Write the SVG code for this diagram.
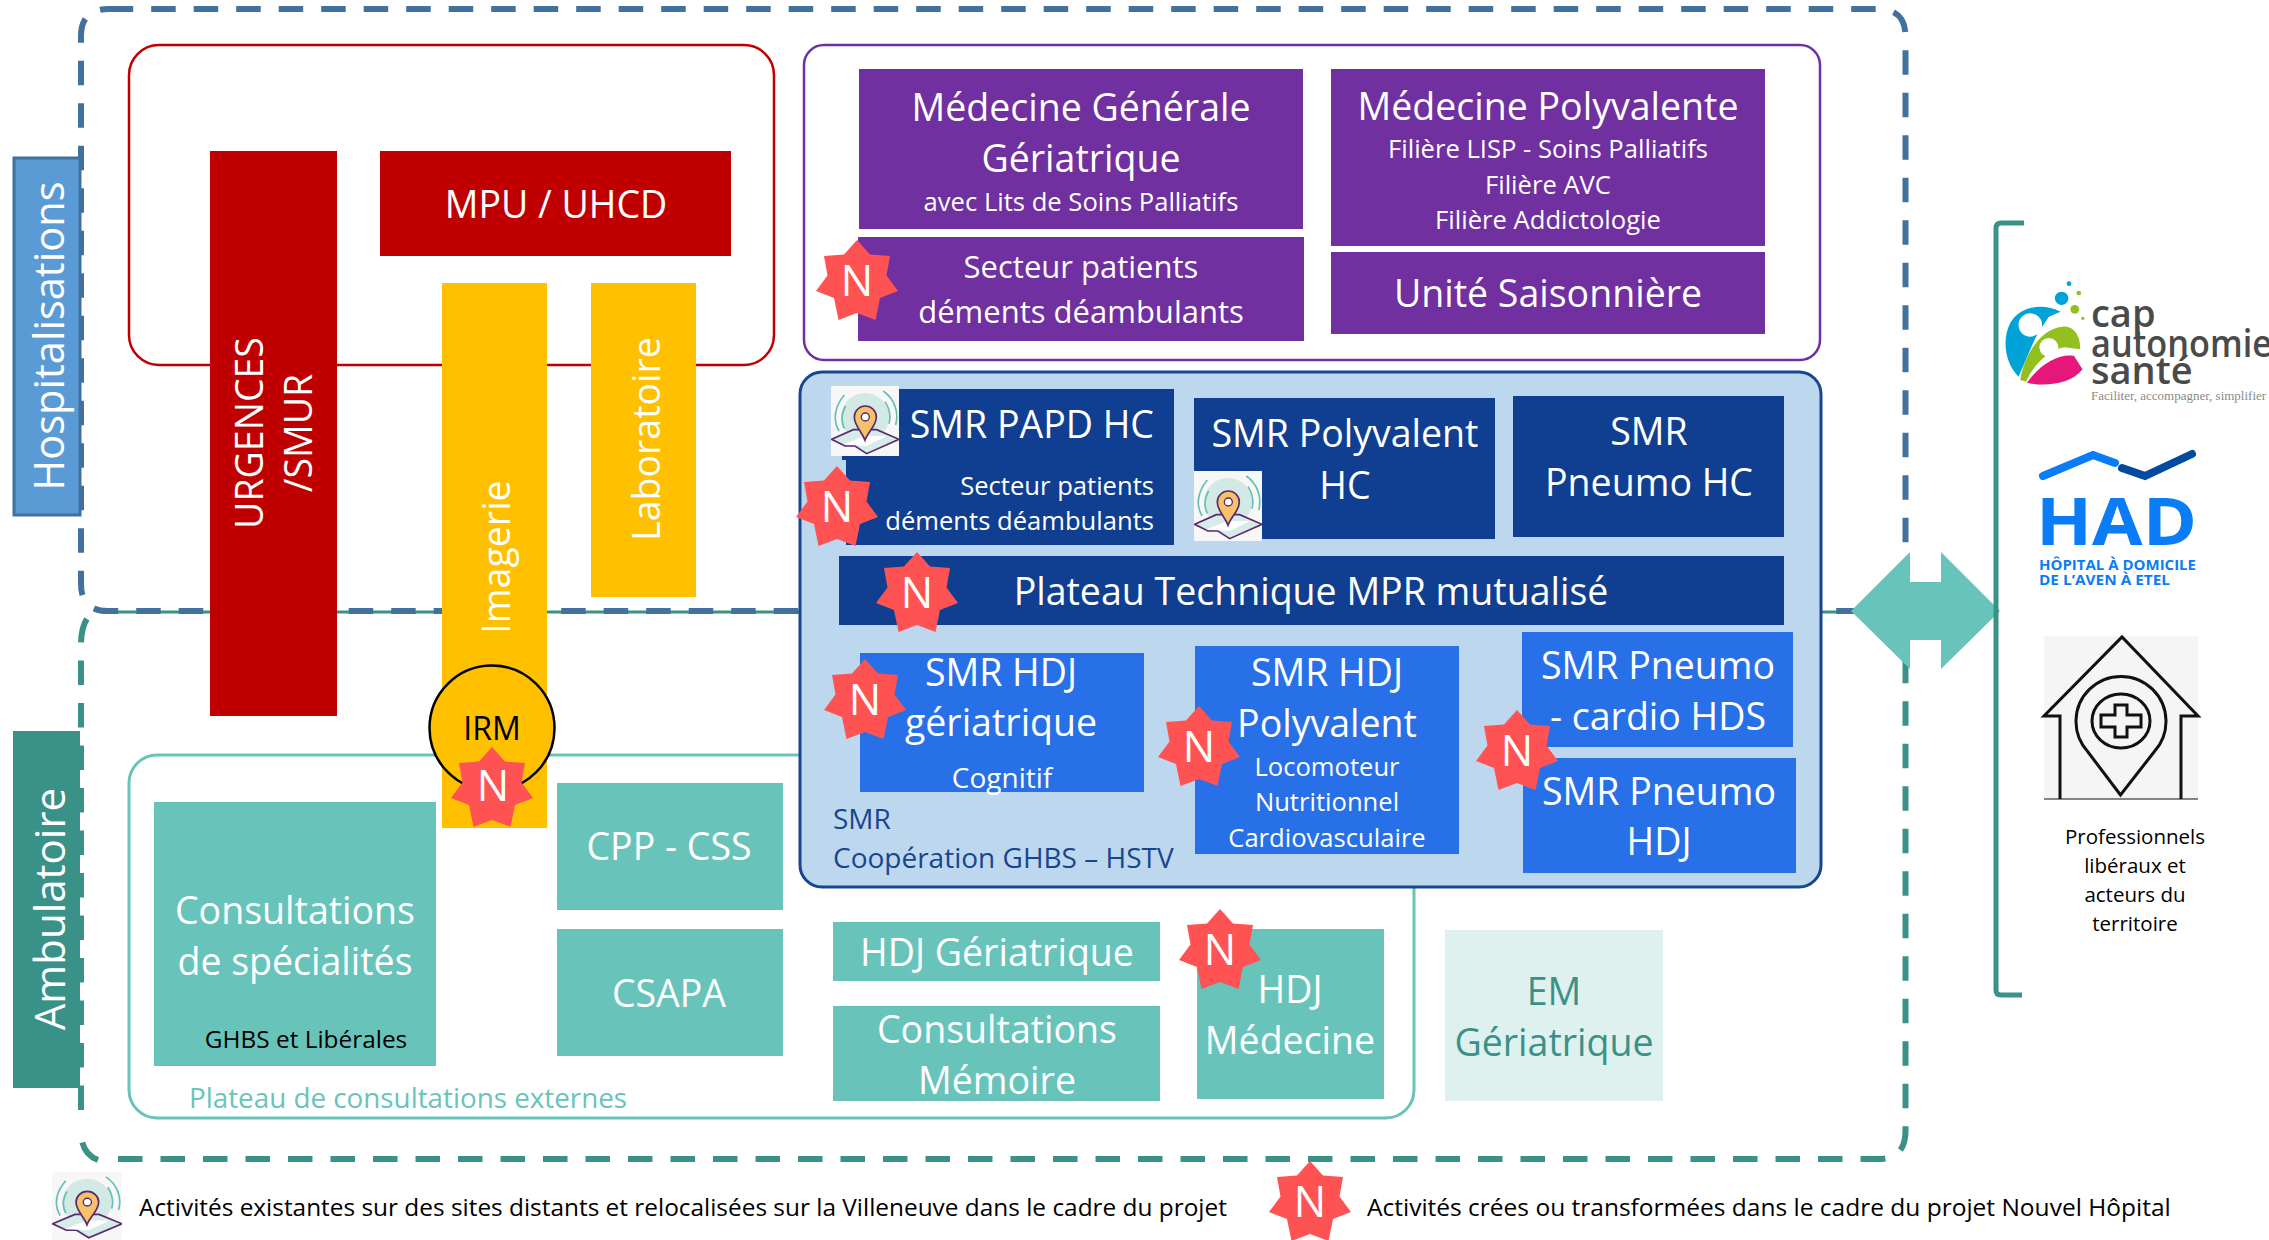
<svg xmlns="http://www.w3.org/2000/svg" xmlns:xlink="http://www.w3.org/1999/xlink" width="2269" height="1240" viewBox="0 0 2269 1240">
<style>
text{font-family:"Open Sans","Noto Sans","Liberation Sans",sans-serif}
.w{fill:#fff;text-anchor:middle}
.l{font-size:37.5px}.m{font-size:25.6px}.s{font-size:31px}
.k{fill:#000}
.t{fill:#3a9188;text-anchor:middle;font-size:37.5px}
.nv{fill:#17468f;font-size:28px}
.nt{fill:#fff;text-anchor:middle;font-size:43px}
.red{fill:#c00000}.yel{fill:#ffc000}.pur{fill:#7030a0}.nav{fill:#103f91}.blu{fill:#2870e8}.tea{fill:#68c4ba}
.dash{fill:none;stroke-width:6;stroke-dasharray:24.5 18}
.star{fill:#ff5353}
</style>
<defs>
<polygon id="star" class="star" points="0,-42 13,-27.5 33,-26 29.5,-6.5 41,9 23,16 18.5,38 0,31 -18.5,38 -23,16 -41,9 -29.5,-6.5 -33,-26 -13,-27.5"/>
<symbol id="pin" viewBox="18 15 204 210" preserveAspectRatio="none">
<rect x="18" y="15" width="204" height="210" fill="#f7f7f7"/>
<circle cx="120" cy="108" r="72" fill="#d2e9e6"/>
<path d="M58,42C30,75 22,115 42,150M62,75C48,100 48,122 58,142M175,30C210,55 222,95 212,132M180,62C195,85 198,105 192,128" fill="none" stroke="#64bfb6" stroke-width="5"/>
<path d="M20,175L85,146L155,146L222,175L125,218L90,195L60,195Z" fill="#d6ece8" stroke="#5a2a6e" stroke-width="5"/>
<path d="M55,190L120,165L185,165L125,195Z" fill="#fff"/>
<path d="M120,178C110,150 88,135 88,108A33,33 0 1 1 154,108C154,135 130,150 120,178Z" fill="#f5c26b" stroke="#5a2a6e" stroke-width="5"/>
<circle cx="121" cy="108" r="12" fill="#fff" stroke="#5a2a6e" stroke-width="4"/>
</symbol>
</defs>
<rect width="2269" height="1240" fill="#fff"/>
<g id="connectors">
<path id="border-teal" class="dash" stroke="#3a9188" d="M118,1159H1878Q1905.5,1159 1905.5,1131V640M81,1110V645Q81,622 92,613M98,1160Q85,1155 82,1141" />
<line x1="108" y1="612" x2="1870" y2="612" stroke="#3a9188" stroke-width="3"/>
<path id="border-blue" class="dash" stroke="#41719c" d="M108.7,9H1878Q1905.5,9 1905.5,36V584Q1905.5,611 1878,611H108Q81,611 81,584V36Q81,9 108.7,9Z"/>
</g>
<g id="zone-urgences"><rect x="129" y="45" width="645" height="320" rx="30" fill="#fff" stroke="#c00000" stroke-width="2.5"/></g>
<g id="zone-medecine"><rect x="804" y="45" width="1016" height="315" rx="20" fill="#fff" stroke="#7030a0" stroke-width="2.5"/></g>
<g id="zone-consultations"><rect x="129" y="755" width="1285" height="363" rx="28" fill="none" stroke="#68c4ba" stroke-width="3"/>
<text x="189" y="1108" font-size="27.8" fill="#68c4ba">Plateau de consultations externes</text></g>
<g id="hospitalisations"><rect x="14" y="158" width="66" height="357" fill="#5b9bd5" stroke="#41719c" stroke-width="3"/>
<text class="w" transform="translate(64,336) rotate(-90)" font-size="41.6">Hospitalisations</text></g>
<g id="ambulatoire"><rect x="13" y="731" width="67" height="357" fill="#3a9188"/>
<text class="w" transform="translate(65,909) rotate(-90)" font-size="42">Ambulatoire</text></g>
<g id="urgences"><rect class="red" x="210" y="151" width="127" height="565"/>
<text class="w l" transform="translate(263,433) rotate(-90)">URGENCES</text>
<text class="w l" transform="translate(312,433) rotate(-90)">/SMUR</text></g>
<g id="mpu"><rect class="red" x="380" y="151" width="351" height="105"/><text class="w l" x="556" y="218">MPU / UHCD</text></g>
<g id="imagerie"><rect class="yel" x="442" y="283" width="105" height="545"/>
<text class="w l" transform="translate(510,557) rotate(-90)">Imagerie</text></g>
<g id="laboratoire"><rect class="yel" x="591" y="283" width="105" height="314"/>
<text class="w l" transform="translate(660,439) rotate(-90)">Laboratoire</text></g>
<g id="irm"><circle class="yel" cx="492" cy="728" r="62.5" stroke="#000" stroke-width="2.5"/>
<text class="k" x="492" y="740" font-size="32" text-anchor="middle">IRM</text>
<use xlink:href="#star" href="#star" x="492" y="789"/><text class="nt" x="493" y="801">N</text></g>
<g id="mg"><rect class="pur" x="859" y="69" width="444" height="160"/>
<text class="w l" x="1081" y="121">Médecine Générale</text><text class="w l" x="1081" y="172">Gériatrique</text><text class="w m" x="1081" y="211">avec Lits de Soins Palliatifs</text></g>
<g id="secteur"><rect class="pur" x="858" y="237" width="446" height="104"/>
<text class="w s" x="1081" y="278">Secteur patients</text><text class="w s" x="1081" y="323">déments déambulants</text>
<use xlink:href="#star" href="#star" x="857" y="282"/><text class="nt" x="857" y="296">N</text></g>
<g id="mp"><rect class="pur" x="1331" y="69" width="434" height="177"/>
<text class="w l" x="1548" y="120">Médecine Polyvalente</text><text class="w m" x="1548" y="158">Filière LISP - Soins Palliatifs</text><text class="w m" x="1548" y="194">Filière AVC</text><text class="w m" x="1548" y="229">Filière Addictologie</text></g>
<g id="saison"><rect class="pur" x="1331" y="252" width="434" height="82"/><text class="w l" x="1548" y="307">Unité Saisonnière</text></g>
<g id="smr"><rect x="800" y="372" width="1021" height="515" rx="22" fill="#bdd7ee" stroke="#17468f" stroke-width="3"/>
<text class="nv" x="833" y="829">SMR</text><text class="nv" x="833" y="868">Coopération GHBS – HSTV</text></g>
<g id="papd"><path class="nav" d="M842,389H1174V545H846V460H842Z"/>
<use xlink:href="#pin" href="#pin" x="831" y="386" width="68" height="70"/>
<text class="w l" x="1154" y="438" style="text-anchor:end">SMR PAPD HC</text>
<text class="w m" x="1154" y="495" style="text-anchor:end">Secteur patients</text><text class="w m" x="1154" y="530" style="text-anchor:end">déments déambulants</text>
<use xlink:href="#star" href="#star" x="837" y="508"/><text class="nt" x="837" y="522">N</text></g>
<g id="polyvalent"><rect class="nav" x="1194" y="398" width="301" height="141"/>
<use xlink:href="#pin" href="#pin" x="1194" y="471" width="68" height="70"/>
<text class="w l" x="1345" y="447">SMR Polyvalent</text><text class="w l" x="1345" y="499">HC</text></g>
<g id="pneumo-hc"><rect class="nav" x="1513" y="396" width="271" height="141"/>
<text class="w l" x="1649" y="445">SMR</text><text class="w l" x="1649" y="496">Pneumo HC</text></g>
<g id="plateau"><rect class="nav" x="839" y="556" width="945" height="69"/>
<text class="w l" x="1311" y="605">Plateau Technique MPR mutualisé</text>
<use xlink:href="#star" href="#star" x="917" y="594"/><text class="nt" x="917" y="608">N</text></g>
<g id="hdj-ger"><rect class="blu" x="860" y="653" width="284" height="139"/>
<text class="w l" x="1001" y="686">SMR HDJ</text><text class="w l" x="1001" y="736">gériatrique</text><text class="w" font-size="28" x="1002" y="788">Cognitif</text>
<use xlink:href="#star" href="#star" x="865" y="701"/><text class="nt" x="865" y="715">N</text></g>
<g id="hdj-poly"><rect class="blu" x="1195" y="646" width="264" height="208"/>
<text class="w l" x="1327" y="686">SMR HDJ</text><text class="w l" x="1327" y="737">Polyvalent</text><text class="w m" x="1327" y="776">Locomoteur</text><text class="w m" x="1327" y="811">Nutritionnel</text><text class="w m" x="1327" y="847">Cardiovasculaire</text>
<use xlink:href="#star" href="#star" x="1199" y="748"/><text class="nt" x="1199" y="762">N</text></g>
<g id="pneumo-hds"><rect class="blu" x="1522" y="632" width="271" height="115"/>
<text class="w l" x="1658" y="679">SMR Pneumo</text><text class="w l" x="1658" y="730">- cardio HDS</text></g>
<g id="pneumo-hdj"><rect class="blu" x="1523" y="758" width="273" height="115"/>
<text class="w l" x="1659" y="805">SMR Pneumo</text><text class="w l" x="1659" y="855">HDJ</text>
<use xlink:href="#star" href="#star" x="1517" y="752"/><text class="nt" x="1517" y="766">N</text></g>
<g id="consultations"><rect class="tea" x="154" y="802" width="282" height="264"/>
<text class="w l" x="295" y="924">Consultations</text><text class="w l" x="295" y="975">de spécialités</text><text class="k" x="306" y="1048" font-size="24.4" text-anchor="middle">GHBS et Libérales</text></g>
<g id="cpp"><rect class="tea" x="557" y="783" width="226" height="127"/><text class="w l" x="669" y="860">CPP - CSS</text></g>
<g id="csapa"><rect class="tea" x="557" y="929" width="226" height="127"/><text class="w l" x="669" y="1007">CSAPA</text></g>
<g id="hdj-geriatrique"><rect class="tea" x="833" y="922" width="327" height="59"/><text class="w l" x="997" y="966">HDJ Gériatrique</text></g>
<g id="memoire"><rect class="tea" x="833" y="1006" width="327" height="95"/><text class="w l" x="997" y="1043">Consultations</text><text class="w l" x="997" y="1094">Mémoire</text></g>
<g id="hdj-medecine"><rect class="tea" x="1197" y="929" width="187" height="170"/><text class="w l" x="1290" y="1003">HDJ</text><text class="w l" x="1290" y="1054">Médecine</text>
<use xlink:href="#star" href="#star" x="1220" y="951"/><text class="nt" x="1220" y="965">N</text></g>
<g id="em"><rect x="1445" y="930" width="218" height="171" fill="#dff1ee"/><text class="t" x="1554" y="1005">EM</text><text class="t" x="1554" y="1056">Gériatrique</text></g>
<g id="double-arrow"><polygon class="tea" points="1851,611 1910,552 1910,582 1941,582 1941,552 2000,611 1941,669 1941,640 1910,640 1910,669"/></g>
<path id="bracket" d="M2024,223H2001Q1996,223 1996,228V990Q1996,995 2001,995H2022" fill="none" stroke="#3a9188" stroke-width="5"/>
<g id="cap-autonomie">
<g transform="translate(2000,270) scale(.3367,.3333)">
<path d="M180,125C130,100 60,105 30,160C5,210 15,280 55,320L100,215C110,190 130,165 145,140Z" fill="#00a3d7"/><circle cx="90" cy="165" r="35" fill="#fff"/>
<path d="M60,330C70,260 120,175 185,170C220,165 240,200 238,238L190,232C150,240 100,280 78,335Z" fill="#93c01f"/><circle cx="145" cy="232" r="28" fill="#fff"/>
<path d="M80,338C120,280 180,250 220,258L245,298C210,345 130,350 80,338Z" fill="#e6177a"/>
<circle cx="183" cy="85" r="20" fill="#00a3d7"/><circle cx="205" cy="41" r="7" fill="#00a3d7"/><circle cx="234" cy="69" r="7" fill="#93c01f"/><circle cx="222" cy="118" r="13" fill="#93c01f"/><circle cx="246" cy="145" r="5" fill="#93c01f"/>
</g>
<text x="2091" y="327" font-size="38" font-weight="600" fill="#4a4a4a">cap</text>
<text x="2091" y="357" font-size="38" font-weight="600" fill="#4a4a4a" textLength="181" lengthAdjust="spacingAndGlyphs">autonomie</text>
<text x="2091" y="384" font-size="38" font-weight="600" fill="#4a4a4a">santé</text>
<text x="2091" y="400" font-size="13" fill="#8a8a8a" style="font-family:'Liberation Serif',serif">Faciliter, accompagner, simplifier</text>
</g>
<g id="had">
<path d="M2043,476L2093,455L2115,463" fill="none" stroke="#0a7cf5" stroke-width="8" stroke-linecap="round"/>
<path d="M2122,468L2145,476L2192,454" fill="none" stroke="#004a9f" stroke-width="8" stroke-linecap="round"/>
<text x="2036" y="545" font-size="67" font-weight="700" fill="#0a7cf5" textLength="161" lengthAdjust="spacingAndGlyphs">HAD</text>
<text x="2039" y="570" font-size="14" font-weight="700" fill="#0a7cf5" textLength="157" lengthAdjust="spacingAndGlyphs">HÔPITAL À DOMICILE</text>
<text x="2039" y="585" font-size="14" font-weight="700" fill="#0a7cf5" textLength="131" lengthAdjust="spacingAndGlyphs">DE L’AVEN À ETEL</text>
</g>
<g id="professionnels">
<rect x="2044" y="636" width="154" height="163" fill="#f5f5f5"/>
<path d="M2060,799V716H2044L2122,637L2198,716H2181V799" fill="none" stroke="#111" stroke-width="3"/>
<line x1="2044" y1="799" x2="2198" y2="799" stroke="#111"/>
<path d="M2120.5,795L2088,752A45,45 0 1 1 2154,752Z" fill="none" stroke="#111" stroke-width="3"/>
<ellipse cx="2121" cy="721" rx="29" ry="27" fill="none" stroke="#111" stroke-width="3"/>
<path d="M2115,705H2127V715H2141V727H2127V737H2115V727H2101V715H2115Z" fill="none" stroke="#111" stroke-width="3"/>
<text class="k" text-anchor="middle" font-size="20.5"><tspan x="2135" y="844">Professionnels</tspan><tspan x="2135" y="873">libéraux et</tspan><tspan x="2135" y="902">acteurs du</tspan><tspan x="2135" y="931">territoire</tspan></text>
</g>
<g id="legend">
<use xlink:href="#pin" href="#pin" x="52" y="1172" width="70" height="68"/>
<text class="k" x="139" y="1216" font-size="24.4">Activités existantes sur des sites distants et relocalisées sur la Villeneuve dans le cadre du projet</text>
<use xlink:href="#star" href="#star" x="1310" y="1203"/><text class="nt" x="1310" y="1217">N</text>
<text class="k" x="1367" y="1216" font-size="24.5">Activités crées ou transformées dans le cadre du projet Nouvel Hôpital</text>
</g>
</svg>
